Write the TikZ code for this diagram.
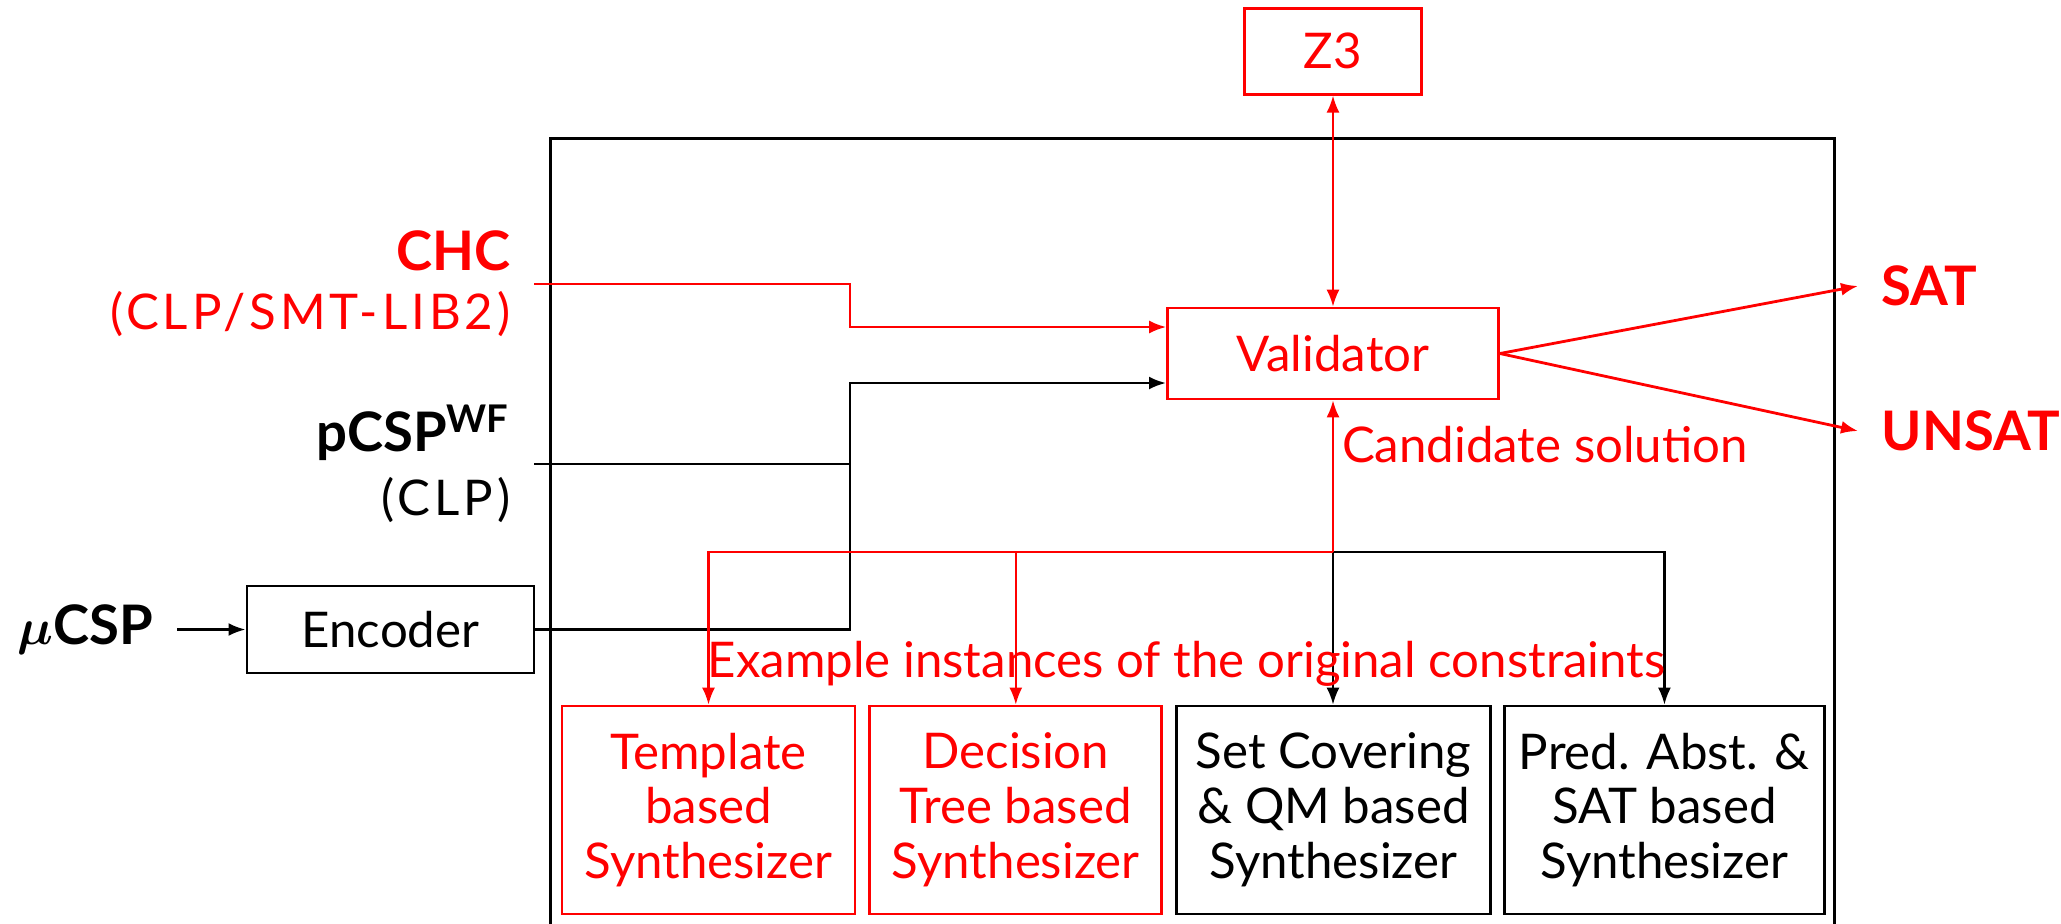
\documentclass[tikz,border=0pt]{standalone}
\usepackage{amsmath}
\usepackage{fontspec}
\setmainfont{Lato}
\usepackage{tikz}
\usetikzlibrary{arrows.meta, positioning}
\newcommand{\bigb}[1]{{\fontsize{15.5}{15.6}\selectfont\bfseries #1}}
\newcommand{\fmt}[1]{{\addfontfeatures{LetterSpace=8}#1}}
\tikzset{
	frame/.style={
		rectangle, draw, thick,
		align=center, inner sep=0pt,
	},
	synth/.style={
		frame, minimum height=2.08cm,
	},
	line/.style={
		draw, ->, semithick,
	},
	src/.style={
		align=right, anchor=east, inner xsep=2.3mm,
	},
	result/.style={
		anchor=west, inner xsep=2.3mm,
	}
}

\begin{document}
\begin{tikzpicture}[font=\fontsize{14}{15.6}\selectfont, >={Latex[length=1.7mm,width=1.3mm]}]
		\useasboundingbox (0,0) rectangle (20.61,-9.23);

		\node [frame, minimum width=12.84cm, minimum height=8.5cm, anchor=north west] (core) at (5.49,-1.37) {};
		\node [frame, red, minimum width=3.31cm, minimum height=0.91cm] (val) at (13.33,-3.535) {Validator};
		\node [frame, red, minimum width=1.77cm, minimum height=0.86cm, above=2.11cm of val] (z3) {Z3};
		\node [frame, minimum width=2.87cm, minimum height=0.87cm] (enc) at (3.905,-6.295) {Encoder};

		\node [synth, red, minimum width=2.93cm] (tmpl) at (7.085,-8.10) {Template\\based\\Synthesizer};
		\node [synth, red, minimum width=2.92cm, right=0.12cm of tmpl] (dtree) {Decision\\Tree based\\Synthesizer};
		\node [synth, minimum width=3.14cm, right=0.12cm of dtree] (setcov) {Set Covering\\\& QM based\\Synthesizer};
		\node [synth, minimum width=3.20cm, right=0.11cm of setcov] (pabs) {Pred. Abst. \&\\SAT based\\Synthesizer};

		\node [src, red] (chc) at (5.34,-2.84) {\bigb{CHC}\\[1.2pt]\fmt{(CLP/SMT-LIB2)}};
		\node [src] (pcsp) at (5.34,-4.64) {\bigb{pCSP\textsuperscript{WF}}\\[2.8pt]\fmt{(CLP)}};
		\node [src] (mucsp) at (1.77,-6.295) {\bigb{$\boldsymbol{\mu}$CSP}};

		\node [result, red] (sat) at (18.58,-2.86) {\bigb{SAT}};
		\node [result, red] (unsat) at (18.58,-4.31) {\bigb{UNSAT}};

		\coordinate (bus) at (8.50,-4.64);
		\coordinate (tap) at (13.33,-5.52);

		% constraints coming in
		\path [line, red] (chc.east) -- (chc.east -| bus) |- ([yshift=2.65mm]val.west);
		\draw [thick] (pcsp.east) -- (bus);
		\path [line, thick] (enc.east) -| (bus) |- ([yshift=-2.95mm]val.west);
		\path [line, thick] (mucsp) -- (enc);
		\path [line, red, <->] (z3) -- (val);

		% answers
		\path [line, red, thick] (val.east) -- (sat.west);
		\path [line, red, thick] (val.east) -- (unsat.west);

		% examples down to the synthesizers
		\path [line] (tap) -- (tap |- setcov.north);
		\path [line] (tap) -| (pabs.north);
		\path [line, red] (tap) -| (tmpl.north);
		\path [line, red] (tap) -| (dtree.north);
		\path [line, red] (tap) -- node[pos=.588, anchor=base west, inner xsep=0.8mm] {Candidate solution} (val.south);
		\node [red, anchor=base west, inner sep=0pt] (ex) at (7.07,-6.77) {Example instances of the original constraints};
\end{tikzpicture}
\end{document}
